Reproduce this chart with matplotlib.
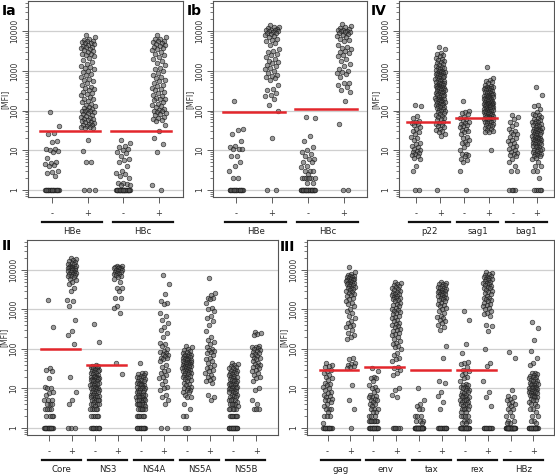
import matplotlib
matplotlib.use("Agg")
import matplotlib.pyplot as plt
import matplotlib.transforms as mtransforms
from matplotlib.ticker import NullFormatter, LogLocator
import numpy as np

# ---- panel Ia ----
ia_hbe_neg = [93, 40, 27, 25, 17, 16, 11, 11, 10, 9.5, 9, 6.5, 5, 4.8, 4.5, 4.3, 4, 3, 2.8, 2.6, 2.3] + [1] * 20
ia_hbe_pos = [8200, 7100, 6500, 6000, 5800, 5500, 5300, 5100, 4900, 4700, 4500, 4300, 4100, 3900,
              3700, 3500, 3300, 3100, 2900, 2700, 2600, 2500, 2300, 2100, 1900, 1700, 1500, 1350,
              1250, 1200, 1100, 1000, 920, 850, 780, 700, 640, 600, 560, 500, 450, 400, 380, 350,
              320, 300, 280, 260, 240, 220, 200, 190, 175, 160, 150, 140, 130, 120, 115, 110, 105,
              100, 98, 95, 90, 85, 80, 76, 72, 68, 65, 62, 60, 58, 55, 52, 50, 48, 46, 44, 42, 40,
              39, 38, 37, 36, 18, 9.5, 5, 5, 1, 1, 1]
ia_hbc_neg = [18, 15, 13, 12, 11, 10, 9, 8.5, 7, 6, 5.5, 5, 4, 3, 2.7, 2.5, 2.3, 2, 1.5, 1.5, 1.4,
              1.3, 1.3] + [1] * 30
ia_hbc_pos = [7800, 7000, 6500, 6200, 5800, 5500, 5200, 5000, 4800, 4500, 4200, 4000, 3700, 3500,
              3300, 3000, 2700, 2500, 2200, 2000, 1800, 1600, 1400, 1200, 1100, 1000, 900, 800, 700,
              650, 600, 550, 500, 450, 420, 380, 350, 320, 300, 280, 250, 230, 210, 200, 190, 180,
              165, 150, 140, 130, 120, 110, 105, 100, 95, 90, 85, 80, 75, 70, 65, 62, 58, 55, 42,
              30, 20, 14, 9, 1.3, 1]
ia_antigens = ["HBe", "HBc"]
ia_cutoffs = [30, 30]

# ---- panel Ib ----
ib_hbe_neg = [170, 35, 32, 26, 17, 13, 12, 11, 11, 10.5, 7, 7, 5, 4, 3, 2, 2] + [1] * 18
ib_hbe_pos = [14000, 13000, 12500, 12000, 11500, 11000, 11000, 10500, 10000, 10000, 9500, 9000,
              9000, 8500, 8000, 7500, 7000, 6500, 6000, 5500, 5000, 4500, 3500, 3200, 3000, 2700,
              2500, 2200, 2000, 1800, 1700, 1600, 1400, 1300, 1200, 1100, 1000, 900, 800, 750, 700,
              650, 600, 450, 350, 320, 280, 250, 230, 200, 140, 95, 20, 1, 1]
ib_hbc_neg = [70, 65, 23, 17, 12, 10, 9, 8, 7, 6, 6, 5, 5, 4, 3.8, 3, 3, 3, 2.5, 2, 2, 2, 2, 2, 2,
              1.5, 1.5] + [1] * 30
ib_hbc_pos = [15000, 13500, 12500, 12000, 11500, 11000, 10500, 10000, 10000, 9800, 9500, 9000,
              8500, 8000, 7500, 7000, 6500, 6000, 5500, 4500, 4000, 3700, 3500, 3200, 3000, 2800,
              2500, 2300, 2000, 1800, 1500, 1300, 1100, 1000, 950, 900, 850, 700, 500, 480, 450,
              400, 320, 300, 170, 45, 1, 1]
ib_antigens = ["HBe", "HBc"]
ib_cutoffs = [90, 112]

# ---- panel IV ----
iv_p22_neg = [135, 130, 72, 65, 55, 50, 48, 45, 42, 38, 35, 30, 28, 25, 22, 20, 18, 15, 14, 13, 12,
              11, 10, 9.5, 9, 8.5, 8, 7.5, 7, 6.5, 6, 4, 3, 1, 1]
iv_p22_pos = [4000, 3500, 2800, 2700, 2500, 2300, 2100, 2000, 1900, 1800, 1700, 1600, 1500, 1400,
              1300, 1250, 1200, 1150, 1100, 1050, 1000, 980, 950, 920, 900, 870, 850, 820, 800, 780,
              750, 720, 700, 680, 650, 620, 600, 580, 560, 540, 520, 500, 490, 480, 460, 450, 440,
              420, 410, 400, 390, 380, 370, 360, 350, 340, 330, 320, 310, 300, 290, 280, 270, 260,
              250, 245, 240, 230, 220, 210, 200, 195, 190, 185, 180, 175, 170, 165, 160, 155, 150,
              145, 140, 135, 130, 125, 120, 115, 110, 105, 100, 95, 90, 85, 80, 76, 72, 68, 64, 60,
              56, 52, 48, 45, 42, 40, 38, 35, 32, 30, 28, 25, 23, 1]
iv_sag1_neg = [170, 95, 90, 85, 80, 70, 65, 60, 55, 50, 48, 45, 42, 40, 38, 35, 32, 30, 28, 25, 22,
               20, 18, 16, 15, 14, 12, 10, 8, 8, 7.5, 7, 6, 5.5, 5, 3, 1]
iv_sag1_pos = [1250, 650, 600, 560, 520, 480, 450, 420, 400, 390, 380, 370, 360, 350, 340, 330, 320,
               310, 300, 290, 280, 270, 260, 250, 245, 240, 235, 230, 225, 220, 215, 210, 205, 200,
               195, 190, 185, 180, 175, 170, 165, 160, 158, 155, 152, 150, 148, 145, 142, 140, 138,
               135, 132, 130, 128, 125, 122, 120, 118, 115, 112, 110, 108, 105, 102, 100, 98, 95,
               92, 90, 88, 85, 82, 80, 78, 76, 74, 72, 70, 68, 66, 64, 62, 60, 58, 56, 54, 52, 50,
               48, 46, 44, 42, 40, 38, 36, 34, 32, 30, 29, 28, 10]
iv_bag1_neg = [75, 70, 60, 50, 45, 40, 35, 30, 28, 26, 25, 22, 20, 18, 17, 15, 14, 13, 12, 11, 10, 9,
               8.5, 8, 7.5, 7, 6, 5, 4, 3, 3, 1, 1, 1, 1]
iv_bag1_pos = [400, 250, 140, 130, 110, 90, 80, 78, 75, 70, 65, 60, 58, 55, 52, 50, 48, 46, 44, 42,
               40, 38, 36, 35, 34, 33, 32, 31, 30, 29, 28, 27, 26, 25, 24, 23, 22, 21, 20, 20, 19,
               19, 18, 18, 17, 17, 16, 16, 15, 15, 14, 14, 13, 13, 12, 12, 11, 11, 10, 10, 9.5, 9,
               8.5, 8, 8, 7.5, 7, 7, 6.5, 6, 5, 4, 4, 3, 3, 2, 1, 1, 1, 1, 1]
iv_antigens = ["p22", "sag1", "bag1"]
iv_cutoffs = [50, 66, None]

# ---- panel II ----
ii_core_neg = [1700, 370, 32, 30, 28, 18, 11, 10.5, 10, 8, 7.5, 7, 5, 5, 5, 4, 4, 4, 3, 3, 3, 3, 2,
               2, 2, 2] + [1] * 16
ii_core_pos = [20000, 19000, 18000, 17000, 16000, 15000, 14000, 14000, 13000, 13000, 12000, 12000,
               11500, 11000, 11000, 10500, 10000, 10000, 9800, 9500, 9000, 9000, 8500, 8000, 8000,
               7500, 7000, 7000, 6500, 6000, 5500, 5000, 4500, 3500, 3000, 1700, 1600, 1200, 550,
               280, 230, 130, 19, 8, 5, 4, 1, 1, 1]
ii_ns3_neg = [420, 150, 40, 38, 36, 35, 34, 33, 32, 30, 29, 28, 27, 26, 25, 24, 23, 22, 21, 20, 20,
              19, 18, 18, 17, 17, 16, 16, 15, 15, 14, 14, 13, 13, 12, 12, 11, 11, 10, 10, 10, 9.5,
              9, 9, 8.5, 8, 8, 7.5, 7, 7, 7, 6.5, 6, 6, 6, 5.5, 5, 5, 5, 5, 4.5, 4, 4, 4, 4, 3.5,
              3, 3, 3, 3, 3, 2, 2, 2, 2, 2] + [1] * 10
ii_ns3_pos = [13000, 12500, 12000, 12000, 11500, 11000, 11000, 10500, 10000, 10000, 9500, 9000,
              9000, 8500, 8000, 8000, 7500, 7000, 6500, 6000, 5000, 3500, 3400, 3000, 2000, 1900,
              1200, 1100, 800, 45, 23]
ii_ns4a_neg = [45, 25, 24, 23, 22, 21, 20, 19, 18, 17, 16, 15, 15, 14, 14, 13, 13, 12, 12, 11, 11,
               10, 10, 10, 9, 9, 9, 8, 8, 8, 7, 7, 7, 7, 6, 6, 6, 6, 5.5, 5, 5, 5, 5, 5, 4.5, 4, 4,
               4, 4, 4, 4, 3.5, 3, 3, 3, 3, 3, 3, 2, 2, 2, 2, 2, 2] + [1] * 12
ii_ns4a_pos = [7400, 4300, 2500, 1600, 1500, 1400, 800, 700, 550, 450, 350, 300, 250, 200, 140, 130,
               120, 100, 90, 85, 80, 75, 70, 65, 60, 58, 55, 50, 40, 35, 30, 28, 25, 22, 20, 18, 15,
               13, 11, 10, 9, 7, 6, 5, 4, 1, 1]
ii_ns5a_neg = [120, 110, 100, 95, 90, 85, 80, 75, 72, 70, 68, 65, 62, 60, 58, 56, 55, 53, 52, 50, 48,
               47, 46, 45, 44, 42, 41, 40, 39, 38, 37, 36, 35, 34, 33, 32, 31, 30, 29, 28, 27, 26,
               25, 24, 23, 22, 21, 20, 19, 18, 17, 16, 15, 14, 13, 12, 11, 10, 10, 9, 9, 8, 8, 7, 6,
               6, 4, 3, 2, 2, 1, 1]
ii_ns5a_pos = [6200, 2600, 2300, 2000, 1900, 1800, 1500, 1100, 1000, 900, 700, 600, 500, 400, 280,
               200, 170, 150, 130, 110, 100, 95, 90, 85, 80, 70, 60, 55, 50, 45, 40, 35, 32, 30, 28,
               25, 22, 20, 18, 16, 15, 14, 7, 6, 5]
ii_ns5b_neg = [45, 42, 40, 38, 35, 33, 32, 30, 28, 27, 26, 25, 24, 23, 22, 21, 20, 19, 18, 17, 16,
               16, 15, 15, 14, 14, 13, 13, 12, 12, 11, 11, 10, 10, 10, 9.5, 9, 9, 8.5, 8, 8, 7.5, 7,
               7, 6.5, 6, 6, 5.5, 5, 5, 5, 4.5, 4, 4, 4, 4, 3.5, 3, 3, 3, 3, 3, 2, 2, 2, 2, 2, 2,
               2] + [1] * 18
ii_ns5b_pos = [270, 260, 240, 220, 120, 115, 110, 105, 100, 95, 90, 85, 80, 75, 70, 65, 60, 58, 55,
               50, 45, 42, 40, 38, 35, 32, 30, 28, 25, 22, 20, 18, 15, 10, 9, 5, 4, 3, 3, 3]
ii_antigens = ["Core", "NS3", "NS4A", "NS5A", "NS5B"]
ii_cutoffs = [100, 40, None, None, None]

# ---- panel III ----
iii_gag_neg = [45, 40, 38, 35, 30, 28, 25, 22, 20, 18, 16, 14, 13, 12, 11, 10, 9, 8, 7.5, 7, 6.5, 6,
               5.5, 5, 5, 4.5, 4, 3.5, 3, 3, 3, 2.5, 2, 2, 2, 1.3] + [1] * 15
iii_gag_pos = [12000, 9000, 8000, 7500, 7200, 7000, 6800, 6500, 6300, 6000, 5800, 5600, 5500, 5300,
               5200, 5000, 4800, 4700, 4500, 4300, 4200, 4000, 3800, 3600, 3500, 3300, 3200, 3000,
               2800, 2600, 2500, 2300, 2200, 2000, 1800, 1600, 1500, 1400, 1200, 1000, 900, 800,
               700, 600, 500, 450, 400, 380, 350, 300, 250, 230, 200, 180, 60, 55, 45, 42, 40, 38,
               35, 33, 12, 5, 3, 1]
iii_env_neg = [32, 28, 20, 18, 18, 15, 12, 11, 10, 9, 8, 7, 6.5, 6, 6, 5.5, 5, 5, 4.5, 4, 4, 3.5, 3,
               3, 3, 2.5, 2.5, 2, 2, 2] + [1.5] * 8 + [1] * 20
iii_env_pos = [5000, 4800, 4500, 4200, 4000, 3800, 3500, 3300, 3100, 3000, 2800, 2600, 2500, 2400,
               2300, 2200, 2100, 2000, 1900, 1800, 1700, 1600, 1500, 1400, 1300, 1200, 1100, 1000,
               950, 900, 850, 800, 750, 700, 650, 600, 550, 500, 450, 420, 400, 380, 350, 320, 300,
               280, 260, 240, 220, 200, 180, 160, 140, 130, 120, 110, 100, 80, 70, 60, 55, 50, 35,
               33, 30, 25, 22, 10, 9, 7, 6, 1, 1, 1, 1, 1, 1]
iii_tax_neg = [10.5, 5, 4, 3.5, 3, 3, 2, 2, 2, 1.5, 1.5, 1.5, 1.3] + [1] * 35
iii_tax_pos = [5000, 4800, 4500, 4300, 4100, 4000, 3800, 3600, 3500, 3300, 3200, 3000, 2900, 2800,
               2700, 2600, 2500, 2400, 2300, 2200, 2100, 2000, 1900, 1800, 1700, 1600, 1500, 1400,
               1300, 1200, 1100, 1000, 900, 800, 700, 650, 600, 550, 500, 450, 400, 350, 300, 120,
               60, 15, 14, 8, 6.5, 4.5, 3] + [1] * 14
iii_rex_neg = [900, 550, 130, 80, 48, 45, 42, 35, 30, 28, 25, 22, 20, 18, 15, 13, 12, 12, 11, 11,
               10, 10, 9, 9, 8, 8, 7.5, 7, 7, 6.5, 6, 6, 6, 5.5, 5, 5, 5, 4.5, 4.5, 4, 4, 4, 3.5,
               3.5, 3, 3, 3, 3, 2.5, 2.5, 2, 2, 2, 2, 1.5, 1.5, 1.5, 1.3, 1.3] + [1] * 25
iii_rex_pos = [9000, 8500, 8000, 7500, 7000, 6800, 6500, 6200, 6000, 5800, 5500, 5300, 5000, 4800,
               4600, 4400, 4200, 4000, 3800, 3600, 3400, 3200, 3000, 2800, 2600, 2400, 2200, 2000,
               1900, 1800, 1700, 1600, 1500, 1400, 1300, 1200, 1100, 1000, 900, 800, 750, 700, 400,
               380, 280, 100, 45, 38, 15, 8, 6, 3.5] + [1] * 12
iii_hbz_neg = [85, 60, 9, 6.5, 6, 5.5, 5, 4.5, 4, 4, 3.5, 3, 3, 2.5, 2, 2, 1.5, 1.5, 1.3, 1.3] + [1] * 40
iii_hbz_pos = [480, 330, 170, 90, 60, 45, 40, 25, 24, 23, 22, 21, 20, 19, 18, 17, 16, 15, 15, 14, 14,
               13, 13, 12, 12, 11, 11, 10, 10, 10, 9.5, 9, 9, 8.5, 8.5, 8, 8, 7.5, 7.5, 7, 7, 6.5,
               6.5, 6, 6, 5.5, 5, 5, 4.5, 4, 4, 3.5, 3, 3, 2.5, 2, 2, 1.5, 1.5, 1.3] + [1] * 25
iii_antigens = ["gag", "env", "tax", "rex", "HBz"]
iii_cutoffs = [30, 34, 30, 30, None]

W, H = 555, 474
fig = plt.figure(figsize=(W / 100, H / 100), dpi=100)

RED = "#e3262c"


def jitter(n, width=0.2):
    k = np.arange(n)
    return ((k * 0.618034 + 0.37) % 1.0 - 0.5) * 2 * width


def draw_panel(px, groups, antigens, cutoffs, letter, letter_px, margin):
    # px = (left, top, right, bottom) in pixels
    l, t, r, b = px
    ax = fig.add_axes([l / W, 1 - b / H, (r - l) / W, (b - t) / H])
    n = len(groups)
    pos = np.arange(1, n + 1)

    for y in [1, 10, 100, 1000, 10000]:
        ax.axhline(y, color="#cfcfcf", lw=0.9, zorder=0)

    for i, vals in enumerate(groups):
        ax.scatter(pos[i] + jitter(len(vals)), vals, s=11, facecolor=(0.35, 0.35, 0.35, 0.6),
                   edgecolor=(0.1, 0.1, 0.1, 0.8), linewidth=0.5, zorder=3)

    for j, c in enumerate(cutoffs):
        if c is not None:
            ax.plot([pos[2 * j] - 0.35, pos[2 * j + 1] + 0.35], [c, c], color=RED, lw=1.8, zorder=4)

    ax.set_yscale("log")
    ax.set_ylim(10 ** -0.18, 10 ** 4.76)
    ax.set_xlim(1 - margin, n + margin)
    ax.set_yticks([1, 10, 100, 1000, 10000])
    ax.set_yticklabels(["1", "10", "100", "1000", "10000"], rotation=90, va="center", fontsize=5.5,
                       color="#333333")
    ax.yaxis.set_minor_locator(LogLocator(base=10, subs=np.arange(2, 10), numticks=20))
    ax.yaxis.set_minor_formatter(NullFormatter())
    ax.tick_params(axis="y", which="major", length=4, width=0.6, pad=2, colors="#444444",
                   labelcolor="#333333")
    ax.tick_params(axis="y", which="minor", length=2.2, width=0.5, colors="#444444")
    ax.set_ylabel("[MFI]", fontsize=5.5, labelpad=0.5, color="#333333")

    ax.set_xticks(pos)
    ax.set_xticklabels(["-", "+"] * (n // 2), fontsize=6, color="#333333")
    ax.tick_params(axis="x", length=4.5, width=0.6, pad=4, colors="#444444", labelcolor="#333333")

    for sp in ax.spines.values():
        sp.set_color("#555555")
        sp.set_linewidth(0.8)

    trans = mtransforms.blended_transform_factory(ax.transData, ax.transAxes)
    for j, name in enumerate(antigens):
        x0 = pos[2 * j] - 0.3
        x1 = pos[2 * j + 1] + 0.4
        ax.plot([x0, x1], [-0.128, -0.128], transform=trans, clip_on=False, color="#111111", lw=1.6)
        ax.text((x0 + x1) / 2, -0.177, name, transform=trans, ha="center", va="center",
                fontsize=6.2, color="#222222")

    fig.text(letter_px[0] / W, 1 - letter_px[1] / H, letter, fontsize=10, fontweight="bold",
             ha="left", va="top")
    return ax


draw_panel((28, 1, 183, 197), [ia_hbe_neg, ia_hbe_pos, ia_hbc_neg, ia_hbc_pos],
           ia_antigens, ia_cutoffs, "Ia", (2, 4), 0.68)
draw_panel((213, 1, 367, 197), [ib_hbe_neg, ib_hbe_pos, ib_hbc_neg, ib_hbc_pos],
           ib_antigens, ib_cutoffs, "Ib", (187, 4), 0.64)
draw_panel((399, 1, 554, 197), [iv_p22_neg, iv_p22_pos, iv_sag1_neg, iv_sag1_pos,
                                iv_bag1_neg, iv_bag1_pos],
           iv_antigens, iv_cutoffs, "IV", (371, 4), 0.7)
draw_panel((27, 240, 278, 435), [ii_core_neg, ii_core_pos, ii_ns3_neg, ii_ns3_pos, ii_ns4a_neg,
                                 ii_ns4a_pos, ii_ns5a_neg, ii_ns5a_pos, ii_ns5b_neg, ii_ns5b_pos],
           ii_antigens, ii_cutoffs, "II", (2, 239), 0.95)
draw_panel((307, 240, 554, 435), [iii_gag_neg, iii_gag_pos, iii_env_neg, iii_env_pos, iii_tax_neg,
                                  iii_tax_pos, iii_rex_neg, iii_rex_pos, iii_hbz_neg, iii_hbz_pos],
           iii_antigens, iii_cutoffs, "III", (280, 240), 0.9)

plt.savefig("out.png", dpi=100)
